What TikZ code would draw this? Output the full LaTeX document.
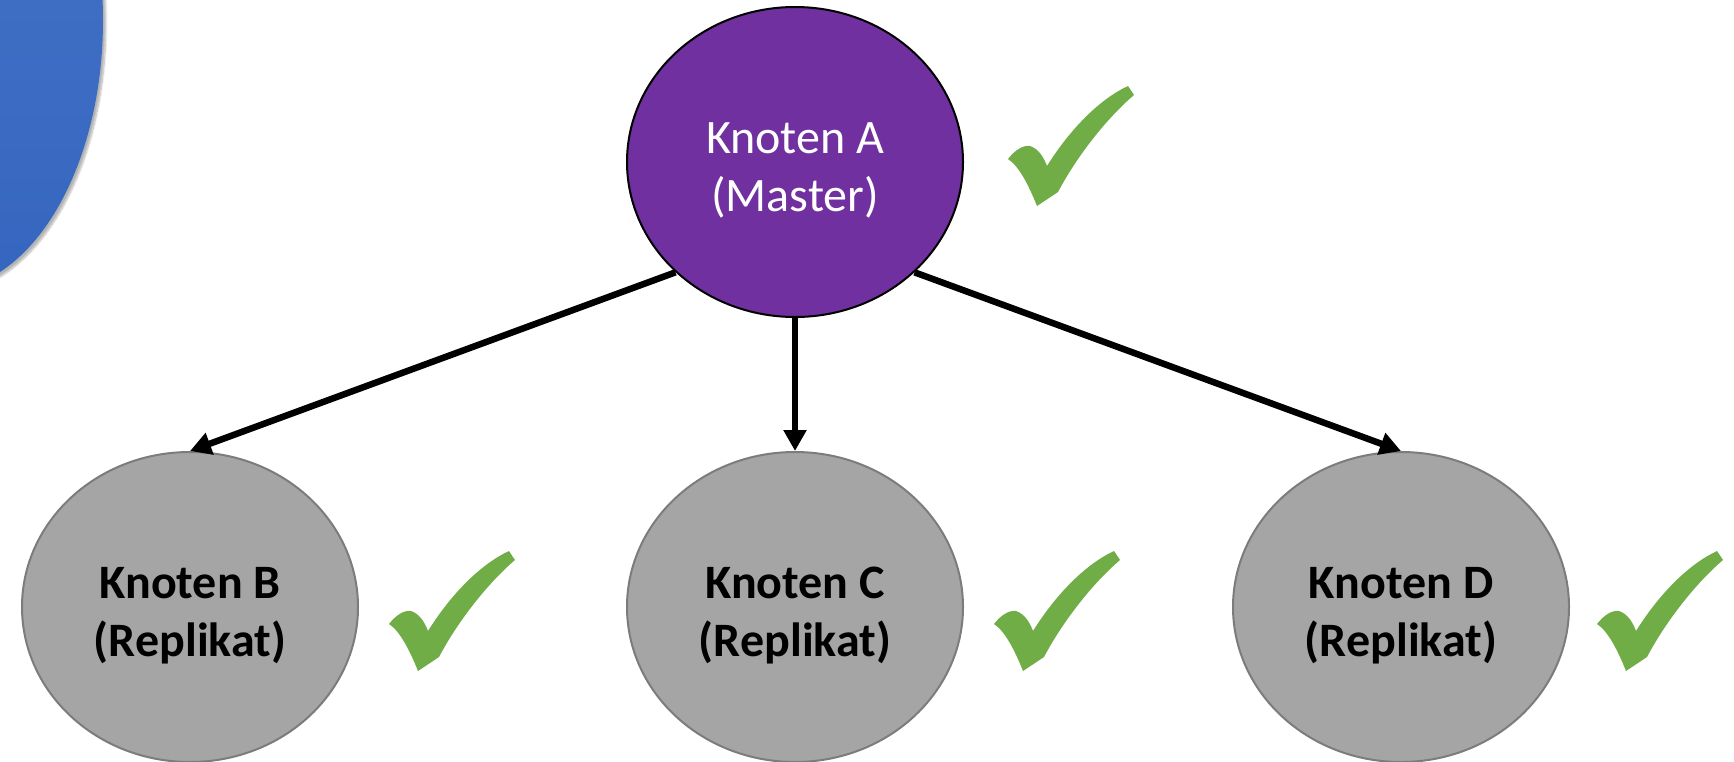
\documentclass[tikz,border=0pt]{standalone}
\usepackage{fontspec}
\setmainfont{Carlito}
\usetikzlibrary{arrows.meta,shapes.geometric,shadows.blur}
\definecolor{masterfill}{HTML}{7030A0}
\definecolor{replfill}{HTML}{A5A5A5}
\definecolor{replline}{HTML}{7C7C7C}
\definecolor{okgreen}{HTML}{70AD47}
\definecolor{bluetop}{HTML}{4675C8}
\definecolor{bluebot}{HTML}{3566BF}
\tikzset{
  knot/.style={ellipse, minimum width=336pt, minimum height=310pt, inner sep=0pt,
    align=center, text height=103pt, text depth=5pt,
    font=\fontsize{48}{58}\selectfont},
  master/.style={knot, fill=masterfill, draw=black, line width=2pt, text=white},
  replica/.style={knot, fill=replfill, draw=replline, line width=2pt, text=black,
    font=\fontsize{48}{58}\selectfont\bfseries},
  conn/.style={line width=6.5pt, -{Triangle[width=22pt,length=21pt]}},
  tick/.pic={
    \fill[okgreen] (0,0) .. controls (-8,-20) and (-18,-40) .. (-29,-47)
      .. controls (-22,-56) and (-14,-61) .. (-7,-60)
      .. controls (2,-57) and (7,-48) .. (10,-40)
      .. controls (35,-80) and (65,-108) .. (91,-120)
      -- (97,-111)
      .. controls (70,-88) and (40,-50) .. (21,-14)
      -- cycle;
  }
}
\begin{document}
\begin{tikzpicture}[x=1pt,y=-1pt]
\useasboundingbox (0,0) rectangle (1734,761);
% decorative blue disc at the left edge
\begin{scope}
\clip (0,0) rectangle (1734,761);
\path[blur shadow={shadow xshift=3pt, shadow yshift=-3pt, shadow blur steps=8, shadow opacity=30},
  top color=bluetop, bottom color=bluebot] (-58,20) ellipse [x radius=161, y radius=270];
\end{scope}

% nodes
\node[master]  (A) at (795,162) {Knoten A\\(Master)};
\node[replica] (B) at (190,607) {Knoten B\\(Replikat)};
\node[replica] (C) at (795,607) {Knoten C\\(Replikat)};
\node[replica] (D) at (1401,607) {Knoten D\\(Replikat)};

% replication connectors
\draw[conn] (A.south west) -- (B.north);
\draw[conn] (A.south) -- (C.north);
\draw[conn] (A.south east) -- (D.north);

% status ticks
\pic at (1037,206) {tick};
\pic at (418,671) {tick};
\pic at (1023,671) {tick};
\pic at (1626,671) {tick};
\end{tikzpicture}
\end{document}
